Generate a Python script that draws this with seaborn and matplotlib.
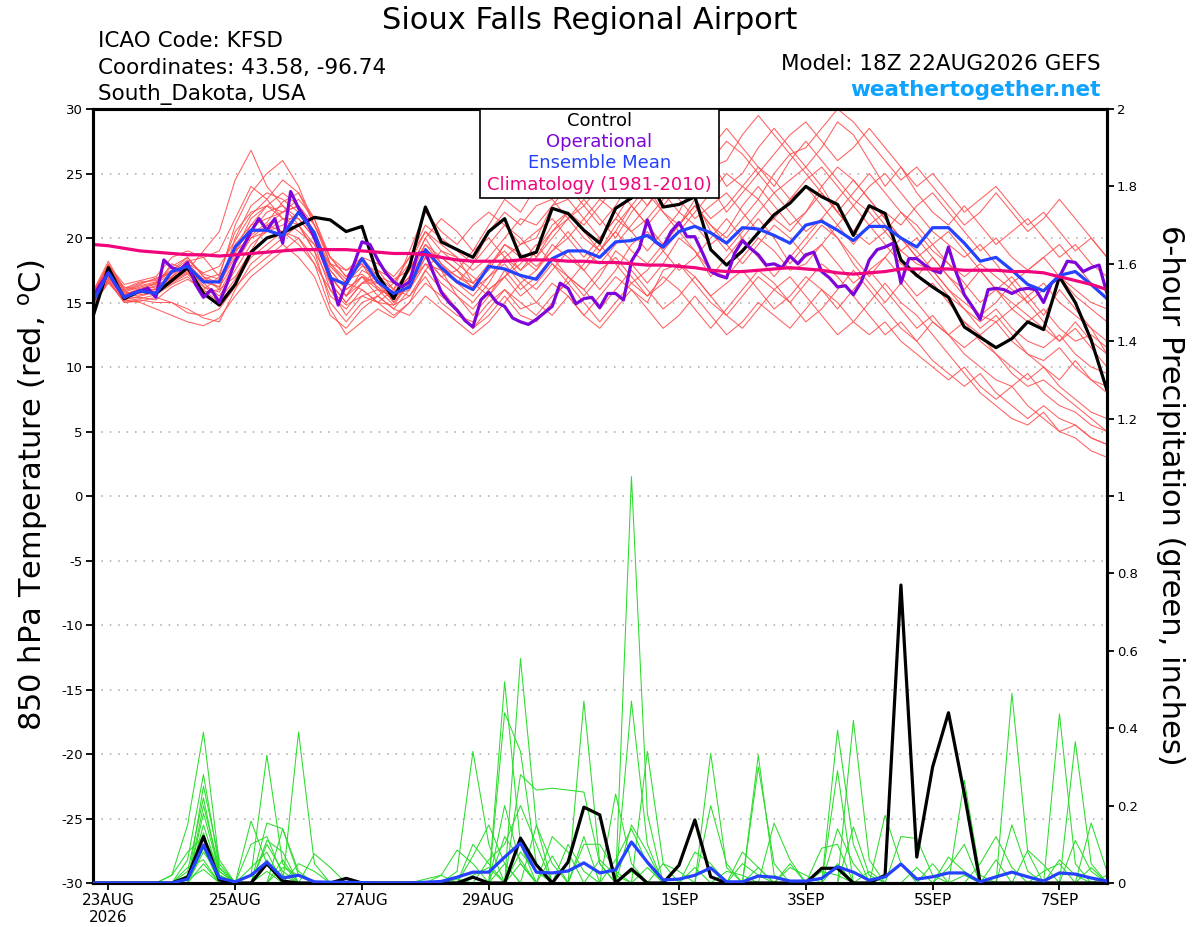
import numpy as np
import pandas as pd
import matplotlib
matplotlib.use('Agg')
import matplotlib.pyplot as plt
from matplotlib.patches import Rectangle
import seaborn as sns

# ---------------- time axis (days since 23AUG 00Z) ----------------
N6 = 65
t6 = -0.25 + 0.25 * np.arange(N6)          # 6-hourly, 22AUG18Z .. 7SEP18Z
t3 = -0.25 + 0.125 * np.arange(2 * N6 - 1)  # 3-hourly for operational run

xtick_pos = [0, 2, 4, 6, 9, 11, 13, 15]
xtick_labels = ['23AUG\n2026', '25AUG', '27AUG', '29AUG', '1SEP', '3SEP', '5SEP', '7SEP']
temp_ticks = list(range(-30, 31, 5))
precip_ticks = [0, 0.2, 0.4, 0.6, 0.8, 1.0, 1.2, 1.4, 1.6, 1.8, 2.0]
precip_labels = ['0', '0.2', '0.4', '0.6', '0.8', '1', '1.2', '1.4', '1.6', '1.8', '2']

# ---------------- temperature series ----------------
control_temp = [13.8, 17.7, 15.3, 15.9, 15.7, 16.7, 17.7, 15.7, 14.8, 16.4,
                18.9, 20.0, 20.4, 21.0, 21.6, 21.4, 20.5, 20.9, 17.1, 15.3,
                17.8, 22.4, 19.7, 19.1, 18.5, 20.5, 21.5, 18.5, 18.9, 22.3,
                21.9, 20.6, 19.6, 22.3, 23.1, 24.8, 22.4, 22.6, 23.2, 19.1,
                17.9, 19.0, 20.4, 21.8, 22.7, 24.0, 23.2, 22.6, 20.2, 22.5,
                21.9, 18.3, 17.1, 16.2, 15.4, 13.1, 12.3, 11.5, 12.2, 13.5,
                12.9, 17.0, 15.0, 12.1, 8.2]

mean_temp = [15.0, 17.3, 15.4, 15.9, 15.7, 17.4, 17.8, 16.6, 16.6, 19.3,
             20.6, 20.6, 20.2, 22.0, 20.4, 16.9, 16.4, 18.4, 16.6, 15.7,
             16.2, 19.1, 17.7, 16.6, 16.0, 17.8, 17.6, 17.1, 16.8, 18.4,
             19.0, 19.0, 18.5, 19.7, 19.8, 20.2, 19.3, 20.5, 20.9, 20.4,
             19.6, 20.8, 20.7, 20.2, 19.6, 21.0, 21.3, 20.6, 19.8, 20.9,
             20.9, 20.0, 19.3, 20.8, 20.8, 19.6, 18.2, 18.5, 17.5, 16.4,
             15.9, 17.1, 17.4, 16.4, 15.3]

clim_temp = [19.5, 19.4, 19.2, 19.0, 18.9, 18.8, 18.7, 18.7, 18.6, 18.7,
             18.8, 18.9, 19.0, 19.1, 19.1, 19.1, 19.1, 19.0, 18.9, 18.8,
             18.8, 18.7, 18.5, 18.3, 18.2, 18.2, 18.2, 18.3, 18.3, 18.3,
             18.2, 18.2, 18.1, 18.1, 18.0, 17.9, 17.9, 17.8, 17.7, 17.5,
             17.4, 17.4, 17.5, 17.6, 17.7, 17.6, 17.5, 17.3, 17.2, 17.3,
             17.4, 17.6, 17.6, 17.6, 17.6, 17.5, 17.5, 17.5, 17.4, 17.4,
             17.3, 17.0, 16.7, 16.4, 16.0]

oper_temp = [15.4, 16.4, 17.3, 16.3, 15.4, 15.7, 15.9, 16.1, 15.4, 18.3,
             17.7, 17.5, 18.1, 16.4, 15.4, 16.0, 15.0, 16.5, 18.2, 19.3,
             20.5, 21.5, 20.6, 21.5, 19.6, 23.6, 22.3, 21.4, 20.0, 18.5,
             17.0, 14.8, 16.5, 18.0, 19.7, 19.5, 18.3, 17.3, 16.6, 16.2,
             16.6, 18.8, 18.9, 17.3, 15.8, 15.0, 14.4, 13.6, 13.1, 15.2,
             15.8, 15.0, 14.7, 13.8, 13.5, 13.3, 13.7, 14.2, 14.7, 16.5,
             16.1, 14.9, 15.3, 15.4, 14.6, 15.7, 15.7, 15.2, 18.2, 19.2,
             21.4, 19.7, 19.3, 20.5, 21.2, 20.1, 20.1, 18.8, 17.4, 17.1,
             16.9, 18.8, 19.8, 19.2, 18.7, 17.9, 18.0, 17.7, 18.6, 18.0,
             18.7, 18.9, 17.4, 16.9, 16.2, 16.3, 15.6, 16.6, 18.3, 19.1,
             19.3, 19.6, 16.5, 18.4, 18.4, 17.9, 17.5, 17.3, 19.3, 17.3,
             15.6, 14.7, 13.7, 16.0, 16.1, 16.0, 15.7, 16.0, 16.1, 16.0,
             15.0, 16.5, 17.0, 18.2, 18.1, 17.4, 17.7, 17.9, 15.7]

m01 = [15.5,17.8,15.8,16.2,16.5, 17.2,18.0,16.8,16.2,19.5, 21.0,21.5,22.0,22.5,21.0, 18.5,17.0,18.0,16.5,15.8, 17.0,19.5,18.0,17.0,16.5, 18.0,19.0,17.5,18.5,20.5, 21.5,20.0,19.0,21.0,22.5, 24.0,22.0,21.0,23.0,20.5, 19.0,20.5,22.0,23.5,24.5, 25.5,24.0,22.0,20.5,22.5, 21.0,19.0,18.0,17.5,16.0, 15.0,14.0,13.5,14.5,15.5, 14.0,16.0,14.5,13.0,11.0]
m02 = [14.5,16.8,15.0,15.2,15.0, 15.0,14.5,13.8,13.5,16.0, 18.0,19.0,20.0,21.0,19.5, 16.0,14.0,15.5,16.0,14.8, 15.5,17.0,15.0,14.0,13.5, 15.0,16.0,14.5,15.0,16.5, 15.5,14.0,15.5,17.0,16.0, 15.0,17.5,18.0,16.5,15.0, 14.0,15.5,17.0,16.0,15.0, 13.5,14.5,16.0,17.5,16.0, 14.5,13.0,12.0,13.5,12.5, 11.0,10.0,9.0,8.5,9.5, 8.0,7.0,6.5,5.5,5.0]
m03 = [15.8,18.2,16.0,16.5,16.8, 17.5,18.5,17.0,16.0,20.0, 22.5,23.5,23.0,22.0,20.5, 17.5,16.0,17.0,15.5,16.5, 18.5,21.0,20.0,19.0,18.0, 20.5,22.0,21.0,22.5,23.0, 21.5,22.5,24.0,25.5,24.0, 22.5,24.5,26.0,27.5,26.0, 24.0,25.0,27.0,28.5,27.0, 25.5,27.0,29.0,28.0,26.0, 24.0,25.5,23.5,22.0,21.0, 22.5,21.0,19.5,20.5,21.5, 20.0,18.5,19.5,18.0,17.0]
m04 = [15.0,17.0,15.2,15.5,15.8, 16.5,17.2,16.0,17.0,19.0, 20.0,20.5,21.0,22.0,20.0, 17.0,15.5,17.5,16.8,15.0, 16.5,18.0,16.5,15.5,14.0, 15.5,17.5,16.0,17.0,18.5, 17.0,15.5,17.0,19.0,18.0, 16.5,18.0,20.0,19.0,17.0, 18.5,20.0,21.5,20.0,18.0, 19.5,21.0,20.0,18.5,17.0, 18.5,20.0,19.0,17.5,16.0, 14.5,13.0,14.0,12.5,11.0, 10.0,9.0,10.5,9.0,8.0]
m05 = [15.2,17.5,15.5,16.0,16.2, 17.0,18.2,18.5,17.0,21.0, 23.5,25.0,26.0,24.0,21.0, 18.0,16.5,16.0,15.0,16.0, 19.0,22.0,20.5,19.5,21.0, 22.0,21.0,19.5,20.0,22.5, 23.0,21.5,20.0,21.5,23.5, 25.0,23.5,22.0,24.5,27.0, 28.5,27.0,25.5,24.0,26.0, 27.5,26.0,24.5,23.0,22.0, 20.5,19.0,20.0,18.5,17.0, 16.0,17.5,16.0,15.0,14.0, 13.0,12.0,13.0,11.5,10.0]
m06 = [14.8,16.5,15.2,15.0,14.5, 14.0,13.5,13.2,13.8,15.5, 17.0,18.0,19.0,20.0,18.0, 14.5,12.5,13.5,14.5,13.8, 15.0,16.5,15.5,14.5,13.0, 14.0,15.5,14.0,13.5,15.0, 17.0,16.0,14.5,16.0,17.5, 16.0,14.5,15.5,17.0,15.5, 14.0,13.0,14.5,16.0,17.0, 15.5,14.0,12.5,13.5,15.0, 16.5,15.0,14.0,12.5,11.0, 9.5,8.0,7.0,6.0,5.5, 6.5,5.0,4.5,3.5,3.0]
m07 = [15.4,17.6,16.2,16.0,16.5, 17.8,18.5,17.0,16.5,18.5, 20.5,22.0,22.5,21.0,19.0, 16.5,15.0,16.5,17.0,16.5, 18.0,20.5,19.0,18.0,17.0, 16.0,17.0,18.5,17.5,19.0, 20.5,19.0,18.0,19.5,21.0, 22.5,24.0,23.0,21.5,22.5, 23.5,22.0,20.5,21.5,23.0, 24.0,22.5,21.0,19.5,21.0, 22.0,21.0,22.5,23.5,22.0, 20.5,19.0,20.0,18.5,17.5, 18.5,19.5,18.0,16.5,16.0]
m08 = [15.0,17.2,15.6,15.8,16.0, 16.8,17.5,16.5,15.5,17.5, 19.5,20.5,21.5,21.0,19.0, 15.0,13.5,15.0,15.5,14.5, 16.0,18.5,17.0,16.0,15.0, 16.5,18.5,17.0,16.0,17.5, 19.0,17.5,16.0,17.5,19.5, 20.5,19.0,17.5,18.5,20.0, 21.5,20.0,18.5,17.0,18.5, 20.0,21.5,20.0,18.0,16.5, 15.0,16.5,15.0,13.5,12.5, 13.5,12.0,11.0,10.0,9.0, 10.0,8.5,7.5,6.5,6.0]
m09 = [15.6,18.0,15.9,16.3,16.6, 17.4,18.3,17.2,16.8,19.0, 21.5,22.5,22.0,23.0,21.5, 18.5,17.5,18.5,17.0,16.0, 17.5,20.0,21.5,20.5,19.0, 21.0,23.0,22.0,24.0,25.0, 23.5,24.5,26.0,24.5,23.0, 25.0,27.0,28.5,27.0,25.5, 26.0,28.0,29.5,28.0,26.5, 27.0,28.5,30.0,29.0,27.5, 26.0,24.5,25.5,24.0,22.5, 21.0,22.0,23.5,22.0,20.5, 21.5,23.0,21.5,20.0,18.5]
m10 = [14.6,16.9,15.3,15.4,15.2, 16.2,16.8,16.0,15.0,16.5, 18.5,19.5,20.5,20.0,18.5, 15.5,14.5,16.0,15.0,14.0, 15.0,17.5,16.0,14.5,13.0, 14.5,16.0,15.0,14.0,15.5, 16.5,15.0,13.5,15.0,16.5, 15.5,17.0,16.0,14.5,13.0, 14.5,16.0,17.5,16.5,15.0, 16.5,18.0,17.0,15.5,14.0, 12.5,13.5,12.0,10.5,9.5, 8.5,9.5,8.0,7.0,6.0, 7.0,6.0,5.5,4.5,4.0]
m11 = [15.3,17.4,15.7,15.9,16.3, 17.0,17.8,16.8,17.2,20.5, 22.0,22.5,21.5,21.5,20.0, 17.5,16.0,17.0,16.0,15.5, 17.0,19.0,18.5,17.5,16.5, 17.5,19.5,18.5,19.0,21.0, 22.0,21.0,22.5,24.0,22.5, 21.0,22.5,24.0,25.5,24.0, 22.0,23.5,25.0,23.5,22.0, 20.5,21.5,23.0,24.5,23.0, 21.5,20.0,18.5,19.5,18.0, 16.5,15.0,16.0,14.5,13.5, 14.5,13.0,12.0,12.5,11.5]
m12 = [15.1,17.3,15.4,15.6,15.8, 16.6,17.3,16.2,15.8,18.0, 20.0,21.0,20.5,22.0,20.5, 17.0,15.5,16.5,16.5,15.5, 16.0,18.0,17.5,16.5,15.5, 17.0,18.0,16.5,17.5,19.5, 18.5,17.5,19.0,20.5,19.0, 18.0,19.5,21.0,22.5,21.0, 19.5,18.0,19.5,21.0,20.0, 18.5,19.5,21.0,22.5,21.0, 19.5,18.0,17.0,18.5,17.0, 15.5,14.0,15.0,16.5,15.0, 13.5,12.0,13.5,12.0,11.0]
m13 = [15.7,17.9,16.4,16.7,17.0, 18.5,19.0,18.5,19.0,21.5, 24.0,23.0,21.5,20.5,19.5, 18.0,17.5,18.0,16.0,15.5, 17.5,20.0,18.0,16.5,18.0, 19.5,21.0,20.0,18.5,20.0, 21.5,23.0,21.5,20.0,22.0, 23.5,22.0,20.5,22.0,23.5, 25.0,24.0,23.0,25.0,26.5, 25.0,23.5,22.0,23.5,25.0, 23.5,22.0,21.0,19.5,20.5, 19.0,17.5,16.0,17.0,15.5, 16.5,15.0,14.0,13.0,12.0]
m14 = [14.9,16.7,15.1,15.3,15.6, 16.4,17.0,15.8,16.0,17.0, 19.0,20.0,20.5,19.5,18.0, 16.0,14.8,15.5,15.0,14.8, 16.5,19.0,17.5,15.5,14.5, 16.0,17.0,15.5,16.5,18.0, 17.0,16.0,17.5,18.5,17.0, 15.5,16.5,18.0,17.0,15.5, 16.5,17.5,16.0,14.5,15.5, 17.0,16.0,14.5,16.0,17.5, 16.0,14.5,13.0,14.0,12.5, 11.5,12.5,11.0,9.5,8.5, 9.0,8.0,7.0,6.0,5.0]
m15 = [15.5,17.7,15.9,16.4,16.9, 17.3,17.9,16.7,16.5,18.8, 21.0,22.5,23.5,22.5,20.5, 17.8,16.5,17.8,17.5,16.8, 17.5,19.5,18.5,17.5,16.0, 17.0,18.5,19.5,20.5,21.5, 20.0,18.5,20.0,21.5,20.5, 19.0,20.5,22.0,21.0,19.5, 20.5,22.5,24.0,22.5,21.0, 22.0,23.5,22.0,20.5,19.5, 20.5,22.0,20.5,19.0,18.0, 17.0,18.0,17.0,16.0,15.0, 16.0,17.0,15.5,14.5,13.5]
m16 = [15.2,17.1,15.8,15.7,16.1, 16.9,17.6,16.3,15.2,16.8, 19.0,21.0,22.0,22.5,20.0, 16.5,15.0,16.5,17.5,16.0, 15.5,17.5,19.0,18.5,16.5, 15.5,17.0,18.0,19.5,18.0, 16.5,18.0,19.5,18.0,16.5, 17.5,19.0,20.5,19.0,17.5, 17.0,18.5,20.0,19.0,17.5, 18.0,19.5,18.0,16.5,17.5, 18.5,17.0,15.5,16.5,15.0, 13.5,12.5,13.5,12.0,11.0, 10.5,11.5,10.0,9.0,8.5]
m17 = [15.4,17.6,15.6,16.1,16.4, 18.0,17.5,19.0,20.5,24.5, 26.8,24.0,22.5,21.5,20.0, 17.0,15.5,17.0,16.5,15.0, 16.5,18.5,17.0,17.5,19.0, 20.0,18.5,17.5,19.0,20.5, 22.0,20.5,19.0,20.5,22.5, 21.0,19.5,21.0,22.5,21.0, 20.0,21.5,23.0,21.5,20.5, 22.0,24.0,25.5,24.5,23.0, 21.5,20.0,18.5,17.0,15.5, 14.5,13.5,14.5,13.0,12.0, 11.5,12.5,11.0,10.0,9.5]
m18 = [15.0,17.4,15.5,15.9,16.0, 16.7,17.4,16.6,16.2,18.2, 20.2,21.2,22.8,23.5,21.5, 18.0,16.8,17.2,16.2,15.2, 16.8,18.8,17.8,17.0,16.2, 17.8,19.5,18.8,17.8,19.0, 20.0,21.5,23.0,22.0,20.5, 21.5,23.0,24.5,23.0,21.5, 22.5,24.0,25.5,24.5,23.0, 24.5,25.5,24.0,22.5,24.0, 25.0,23.5,22.0,20.5,19.5, 18.5,19.5,18.0,16.5,17.5, 18.5,17.0,16.0,15.0,14.5]
m19 = [14.7,16.6,15.0,15.1,15.4, 15.0,14.2,14.0,14.5,16.2, 17.5,18.5,19.5,18.5,17.0, 14.0,13.0,14.5,15.5,14.5, 14.0,15.5,14.5,13.5,12.5, 13.5,15.0,16.5,15.0,14.0, 15.5,14.0,13.0,14.5,16.0, 14.5,13.0,14.0,15.5,14.0, 12.5,13.5,15.0,14.0,13.0, 14.5,16.0,15.0,13.5,12.5, 13.5,12.0,11.0,10.0,9.0, 10.0,8.5,7.5,8.5,7.0, 6.0,5.0,5.5,4.5,4.0]
m20 = [15.6,17.9,16.1,16.6,16.7, 17.4,18.0,17.3,17.8,19.8, 21.8,23.0,24.5,23.5,21.0, 18.5,17.0,18.5,18.0,17.0, 18.5,20.5,19.5,18.5,17.5, 18.5,20.0,21.5,21.0,22.5, 24.0,22.5,21.0,22.5,24.5, 26.0,25.0,23.5,24.5,26.0, 27.5,26.5,25.0,26.5,28.0, 29.0,27.5,26.0,27.0,28.5, 27.0,25.5,24.0,25.0,23.5, 22.0,23.0,24.0,22.5,21.0, 22.0,20.5,19.0,20.0,18.5]
temp_members = [m01, m02, m03, m04, m05, m06, m07, m08, m09, m10,
                m11, m12, m13, m14, m15, m16, m17, m18, m19, m20]

# ---------------- precipitation series (inches / 6 h) ----------------
control_precip = [0,0,0,0,0, 0,.015,.12,.008,0, 0,.05,.005,0,0, 0,.012,0,0,0, 0,0,0,0,.015,
                  0,0,.116,.047,0, .054,.196,.176,0,.036, 0,0,.046,.163,.016, 0,0,0,0,0,
                  0,.038,.038,0,0, .02,.77,.067,.30,.44, .23,0,0,0,0, 0,0,0,0,0]
mean_precip = [0,0,0,0,0, 0,.01,.098,.013,.003, .02,.054,.013,.02,.003, .002,.002,.001,0,0,
               0,.002,.004,.015,.028, .028,.067,.103,.028,.026, .031,.052,.026,.034,.106,
               .054,.008,.01,.02,.039, .003,.003,.018,.015,.005, .005,.012,.042,.028,.007,
               .016,.049,.01,.016,.026, .026,.003,.016,.028,.016, .005,.026,.023,.013,.005]

g01 = [0,0,0,0,0, .02,.15,.39,.05,0, .02,.33,.05,0,0, 0,0,0,0,0, 0,0,0,.03,.34, .10,0,0,0,0, 0,0,0,0,1.05, .18,0,0,0,0, 0,0,0,0,0, 0,0,.395,.10,0, 0,0,0,0,0, 0,0,0,.49,.08, 0,0,0,0,0]
g02 = [0,0,0,0,0, 0,.06,.28,.04,0, 0,0,0,.39,.05, 0,0,0,0,0, 0,0,0,0,0, 0,.52,.10,0,0, 0,.47,.05,0,0, 0,0,0,0,0, 0,0,.30,.05,0, 0,0,0,0,0, 0,0,0,0,0, .265,.02,0,0,0, 0,.437,.05,0,0]
g03 = [0,0,0,0,0, 0,0,.25,.06,0, .16,.05,0,0,0, 0,0,0,0,0, 0,0,0,0,0, 0,0,.58,.15,0, 0,0,0,0,.47, .10,0,0,0,.335, .04,0,0,0,0, 0,0,0,.42,.06, 0,0,0,0,0, 0,0,0,0,0, 0,0,.365,.05,0]
g04 = [0,0,0,0,0, 0,.03,.22,.02,0, 0,.155,.14,.03,0, 0,0,0,0,0, 0,0,0,0,0, 0,.44,.34,.05,0, 0,0,0,0,0, .34,.05,0,0,0, 0,0,.33,.02,0, 0,0,.29,0,0, 0,0,0,0,0, 0,0,0,0,0, 0,0,0,.155,.03]
g05 = [0,0,0,0,0, 0,0,.20,.04,0, 0,0,.14,.02,0, 0,0,0,0,0, 0,0,0,0,0, 0,0,.28,.24,.245, .24,.235,.05,0,0, 0,0,0,0,.20, .05,0,0,0,0, 0,0,0,0,0, .175,.05,0,0,0, 0,0,0,0,0, 0,0,0,0,0]
g06 = [0,0,0,0,0, 0,0,.18,.03,0, 0,0,0,0,.075, .04,0,0,0,0, 0,0,0,0,.07, .15,.05,0,0,0, 0,0,0,.23,.05, 0,0,0,0,0, 0,0,0,.155,.06, 0,0,0,0,0, 0,.12,.115,.02,0, 0,0,0,0,0, 0,0,0,0,0]
g07 = [0,0,0,0,0, 0,0,.15,.02,0, 0,.10,.03,0,0, 0,0,0,0,0, 0,0,.02,.085,.05, 0,0,0,0,.12, .08,0,0,0,0, 0,0,0,0,0, 0,.05,.02,0,0, 0,.09,.10,0,0, 0,0,0,0,.067, .03,0,0,0,0, 0,0,0,0,0]
g08 = [0,0,0,0,0, 0,.02,.12,.03,0, 0,0,.06,0,0, 0,0,0,0,0, 0,0,0,0,0, 0,.20,.05,0,0, 0,.10,.10,.03,0, 0,0,0,.08,.05, 0,0,0,0,0, 0,0,0,.145,.02, 0,0,0,0,0, 0,0,0,0,.085, .047,0,0,0,0]
g09 = [0,0,0,0,0, 0,0,.10,0,0, .04,.08,0,0,0, 0,0,0,0,0, 0,0,0,0,0, .06,.10,.20,.10,0, 0,0,0,0,.15, .08,0,0,0,0, 0,0,0,0,.04, .02,0,0,0,0, 0,0,0,0,0, 0,.05,.12,.04,0, 0,0,.11,.03,0]
g10 = [0,0,0,0,0, 0,0,.08,.02,0, 0,0,0,.05,.03, 0,0,0,0,0, 0,0,0,0,.02, .04,0,0,.15,.05, 0,0,0,0,0, 0,.05,.03,0,0, 0,0,0,0,0, 0,0,.05,0,0, 0,0,0,0,0, 0,0,0,0,0, 0,.06,.02,0,0]
g11 = [0,0,0,0,0, 0,.04,.06,0,0, 0,.03,0,0,0, 0,0,0,0,0, 0,0,0,0,0, 0,0,.08,.03,0, 0,0,.06,.02,0, 0,0,0,0,0, .03,.02,0,0,0, 0,0,0,0,0, 0,0,.04,0,0, 0,0,0,0,0, .03,.05,0,0,0]
g12 = [0,0,0,0,0, 0,0,.05,0,0, 0,0,.04,.02,0, 0,0,0,0,0, 0,0,0,0,0, 0,.05,0,0,0, .10,.03,0,0,0, .04,0,0,0,0, 0,0,0,0,0, 0,.03,.02,0,0, 0,0,0,.05,0, 0,0,0,0,0, 0,0,0,.04,0]
g13 = [0,0,0,0,0, 0,.01,.035,0,0, 0,0,0,0,0, 0,0,0,0,0, 0,0,0,.01,0, 0,0,.05,0,0, 0,0,0,0,.03, 0,0,0,0,0, 0,0,.04,0,0, 0,0,0,0,0, 0,0,0,0,0, .02,0,0,0,0, 0,0,0,0,0]
g14 = [0,0,0,0,0, 0,0,.13,0,0, 0,.06,0,0,0, 0,0,0,0,0, 0,.01,.02,0,0, 0,0,0,0,.07, 0,0,0,0,0, 0,0,0,.04,0, 0,0,0,0,0, 0,0,0,0,.03, 0,0,0,0,0, 0,0,.06,0,0, 0,0,0,0,0]
g15 = [0,0,0,0,0, .02,.08,.12,.04,0, .10,.12,.02,0,0, 0,0,0,0,0, 0,0,0,0,.10, .05,0,0,0,0, 0,.12,0,0,0, 0,0,0,0,0, 0,.08,.04,0,0, 0,0,.14,.05,0, 0,0,0,0,0, 0,0,0,.15,.03, 0,0,0,0,0]
g16 = [0,0,0,0,0, 0,0,.09,0,0, 0,.11,.08,0,0, 0,0,0,0,0, 0,0,0,0,0, 0,.12,.06,0,0, 0,0,0,.06,.14, .05,0,0,0,0, 0,0,0,0,.05, 0,0,0,0,0, 0,0,0,0,.04, .10,0,0,0,0, 0,0,0,0,.02]
precip_members = [g01, g02, g03, g04, g05, g06, g07, g08,
                  g09, g10, g11, g12, g13, g14, g15, g16]

# ---------------- long-form tables ----------------
temp_df = pd.DataFrame({
    't': np.tile(t6, len(temp_members)),
    'temp': np.concatenate([np.asarray(m, float) for m in temp_members]),
    'member': np.repeat(np.arange(len(temp_members)), N6)})
precip_df = pd.DataFrame({
    't': np.tile(t6, len(precip_members)),
    'precip': np.concatenate([np.asarray(m, float) for m in precip_members]),
    'member': np.repeat(np.arange(len(precip_members)), N6)})

# ---------------- styling ----------------
sns.set_theme(style='white')
plt.rcParams['font.family'] = ['DejaVu Sans']
plt.rcParams['axes.edgecolor'] = 'black'
plt.rcParams['text.color'] = 'black'
plt.rcParams['axes.labelcolor'] = 'black'
plt.rcParams['xtick.color'] = 'black'
plt.rcParams['ytick.color'] = 'black'

RED = '#ff4f4f'
GREEN = '#2bdc2b'
PURPLE = '#7d05d9'
BLUE = '#2442ff'
PINK = '#f0057d'

W, H = 1200, 927
fig = plt.figure(figsize=(W / 100, H / 100), dpi=100)
L, R, T, B = 92.5, 1107, 109, 883
ax = fig.add_axes([L / W, 1 - B / H, (R - L) / W, (B - T) / H])
ax2 = ax.twinx()

# temperature (left axis)
sns.lineplot(data=temp_df, x='t', y='temp', units='member', estimator=None,
             color=RED, lw=0.75, alpha=0.9, ax=ax, legend=False, zorder=2)
sns.lineplot(x=t6, y=control_temp, color='black', lw=2.3, ax=ax, zorder=4)
sns.lineplot(x=t3, y=oper_temp, color=PURPLE, lw=2.3, ax=ax, zorder=5)
sns.lineplot(x=t6, y=mean_temp, color=BLUE, lw=2.3, ax=ax, zorder=6)
sns.lineplot(x=t6, y=clim_temp, color=PINK, lw=2.3, ax=ax, zorder=7)

# precipitation (right axis)
sns.lineplot(data=precip_df, x='t', y='precip', units='member', estimator=None,
             color=GREEN, lw=0.75, ax=ax2, legend=False, zorder=2)
sns.lineplot(x=t6, y=control_precip, color='black', lw=2.3, ax=ax2, zorder=3)
sns.lineplot(x=t6, y=mean_precip, color=BLUE, lw=2.3, ax=ax2, zorder=4)

ax.set_xlim(-0.25, 15.75)
ax.set_ylim(-30, 30)
ax2.set_ylim(0, 2)
ax.set_xticks(xtick_pos, xtick_labels)
ax.set_yticks(temp_ticks, [str(v) for v in temp_ticks])
ax2.set_yticks(precip_ticks, precip_labels)
ax.set_xlabel('')
ax.set_ylabel('')
ax2.set_ylabel('')

ax.grid(axis='y', color='#a8a8a8', linestyle=(0, (1, 4.5)), lw=1.1, zorder=1)
ax.grid(axis='x', visible=False)
ax2.grid(False)

ax.tick_params(axis='x', bottom=True, direction='out', length=5, width=1.3,
               labelsize=11, pad=2, colors='black')
ax.tick_params(axis='y', left=True, direction='out', length=5, width=1.3,
               labelsize=9.5, pad=2, colors='black')
ax2.tick_params(axis='y', right=True, direction='out', length=5, width=1.3,
                labelsize=9.5, pad=2, colors='black')
for a in (ax, ax2):
    for name, sp in a.spines.items():
        sp.set_visible(True)
        sp.set_color('black')
        sp.set_linewidth(2.2)

# axis titles
fig.text(33 / W, 1 - 495 / H, '850 hPa Temperature (red, $^\\mathregular{o}$C)',
         rotation=90, ha='center', va='center', fontsize=22, color='black')
fig.text(1171 / W, 1 - 495 / H, '6-hour Precipitation (green, inches)',
         rotation=-90, ha='center', va='center', fontsize=22, color='black')

# header
fig.text(590 / W, 1 - 29 / H, 'Sioux Falls Regional Airport', ha='center',
         va='baseline', fontsize=22, color='black')
fig.text(98 / W, 1 - 47 / H, 'ICAO Code: KFSD', ha='left', va='baseline',
         fontsize=15.5, color='black')
fig.text(98 / W, 1 - 74 / H, 'Coordinates: 43.58, -96.74', ha='left', va='baseline',
         fontsize=15.5, color='black')
fig.text(98 / W, 1 - 100 / H, 'South_Dakota, USA', ha='left', va='baseline',
         fontsize=15.5, color='black')
fig.text(1101 / W, 1 - 70 / H, 'Model: 18Z 22AUG2026 GEFS', ha='right',
         va='baseline', fontsize=15.5, color='black')
fig.text(1101 / W, 1 - 96 / H, 'weathertogether.net', ha='right', va='baseline',
         fontsize=15.5, fontweight='bold', color='#0ea3ff')

# legend box
legend_labels = ['Control', 'Operational', 'Ensemble Mean', 'Climatology (1981-2010)']
legend_colors = ['black', PURPLE, BLUE, PINK]
legend_y = [121, 142, 163, 185]
box = Rectangle((480 / W, 1 - 198 / H), (719 - 480) / W, (198 - 109) / H,
                transform=fig.transFigure, facecolor='white', edgecolor='black',
                lw=1.2, zorder=5)
fig.add_artist(box)
for lab, col, yy in zip(legend_labels, legend_colors, legend_y):
    fig.text(599.5 / W, 1 - yy / H, lab, ha='center', va='center', color=col,
             fontsize=13, zorder=6)

fig.savefig('out.png', dpi=100)
